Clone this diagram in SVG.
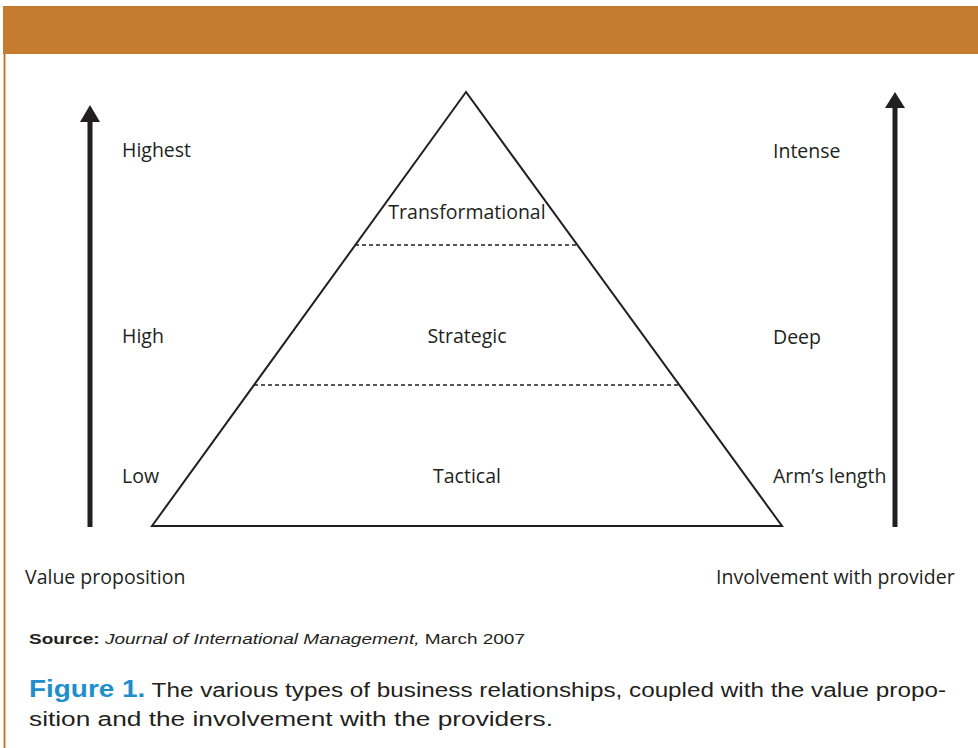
<svg xmlns="http://www.w3.org/2000/svg" width="978" height="748" viewBox="0 0 978 748">
<defs>
<style>
.lbl{font-family:"Open Sans","Noto Sans",sans-serif;font-size:19.5px;fill:#231f20}
.cap{font-family:"Liberation Sans",Arial,sans-serif;fill:#231f20}
.dash{stroke:#231f20;stroke-width:1.5;stroke-dasharray:4,3;fill:none}
</style>
</defs>
<rect width="978" height="748" fill="#fff"/>
<rect x="3" y="6" width="975" height="48" fill="#c67c2f"/>
<line x1="4.5" y1="54" x2="4.5" y2="748" stroke="#c67c2f" stroke-width="2"/>
<g id="connectors">
<line x1="90" y1="527" x2="90" y2="118" stroke="#231f20" stroke-width="5"/>
<polygon points="90,105 80,122 100,122" fill="#231f20"/>
<line x1="895" y1="527" x2="895" y2="105" stroke="#231f20" stroke-width="5"/>
<polygon points="895,92 885,108 905,108" fill="#231f20"/>
</g>
<g id="pyramid">
<polygon points="466,92 152,526 782,526" fill="none" stroke="#231f20" stroke-width="2"/>
<line class="dash" x1="355" y1="245" x2="578" y2="245"/>
<line class="dash" x1="254" y1="385" x2="678" y2="385"/>
</g>
<g id="tier-transformational"><text class="lbl" x="467" y="219" text-anchor="middle">Transformational</text></g>
<g id="tier-strategic"><text class="lbl" x="467" y="343" text-anchor="middle">Strategic</text></g>
<g id="tier-tactical"><text class="lbl" x="467" y="483" text-anchor="middle">Tactical</text></g>
<g id="left-labels">
<text class="lbl" x="122" y="157">Highest</text>
<text class="lbl" x="122" y="343">High</text>
<text class="lbl" x="122" y="483">Low</text>
<text class="lbl" x="25" y="584">Value proposition</text>
</g>
<g id="right-labels">
<text class="lbl" x="773" y="158">Intense</text>
<text class="lbl" x="773" y="344">Deep</text>
<text class="lbl" x="773" y="483">Arm’s length</text>
<text class="lbl" x="716" y="584">Involvement with provider</text>
</g>
<g id="caption">
<text class="cap" x="29" y="644" font-size="15" textLength="496" lengthAdjust="spacingAndGlyphs"><tspan font-weight="bold">Source:</tspan> <tspan font-style="italic">Journal of International Management,</tspan> March 2007</text>
<text class="cap" x="29" y="697" font-size="20" textLength="917" lengthAdjust="spacingAndGlyphs"><tspan font-weight="bold" fill="#1e8fcb" font-size="23">Figure 1.</tspan> The various types of business relationships, coupled with the value propo-</text>
<text class="cap" x="29" y="726" font-size="20" textLength="524" lengthAdjust="spacingAndGlyphs">sition and the involvement with the providers.</text>
</g>
</svg>
